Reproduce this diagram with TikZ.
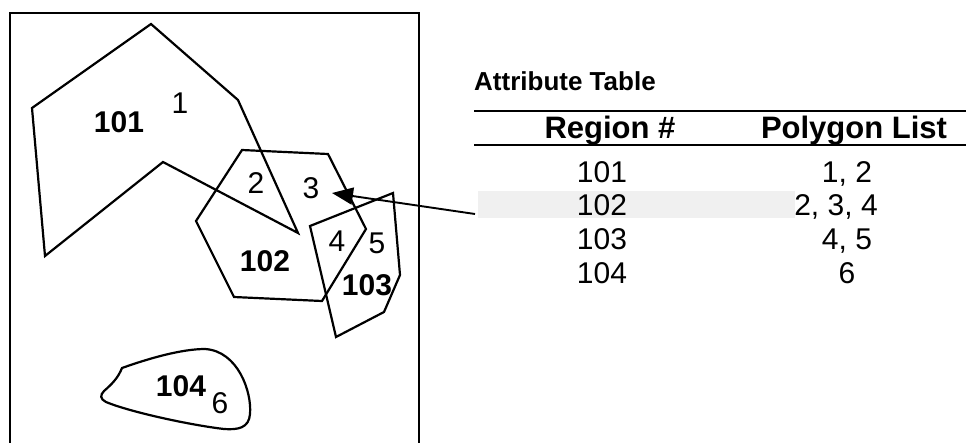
\documentclass[tikz,border=0pt]{standalone}
\usepackage{fontspec}
\setmainfont{Liberation Sans}
\usetikzlibrary{arrows.meta}
\begin{document}
\begin{tikzpicture}[x=1pt,y=-1pt,line join=miter,
  poly/.style={draw=black,line width=2.2pt},
  frame/.style={draw=black,line width=1.9pt},
  rule/.style={draw=black,line width=1.7pt},
  lbl/.style={inner sep=0pt,font=\fontsize{30}{33}\selectfont},
  blbl/.style={inner sep=0pt,font=\fontsize{30}{33}\selectfont\bfseries},
  cell/.style={inner sep=0pt,anchor=base,font=\fontsize{30}{33}\selectfont},
  head/.style={inner sep=0pt,anchor=base,font=\fontsize{31}{34}\selectfont\bfseries},
  title/.style={inner sep=0pt,anchor=base west,font=\fontsize{26}{30}\selectfont\bfseries},
  pointer/.style={draw=black,line width=1.9pt,-{Triangle[length=21pt,width=17pt]}}]
\useasboundingbox (0,0) rectangle (968,442);
% frame
\draw[frame] (10,445) -- (10,13) -- (419,13) -- (419,445);
% highlight of the selected row
\fill[black!6] (478,191) rectangle (795,218);
% polygon 101
\draw[poly] (32,108) -- (151,24) -- (238,100) -- (298,233) -- (163,162) -- (45,256) -- cycle;
% polygon 102
\draw[poly] (242,150) -- (328,154) -- (366,229) -- (322,301) -- (234,297) -- (196,221) -- cycle;
% polygon 103
\draw[poly] (310,226) -- (393,193) -- (400,275) -- (384,312) -- (336,337) -- cycle;
% polygon 104
\draw[poly] (122,368) .. controls (150,358) and (182,349) .. (205,349)
  .. controls (238,351) and (252,392) .. (250,414)
  .. controls (249,428) and (238,430) .. (224,429)
  .. controls (190,425) and (130,412) .. (106,402)
  .. controls (100,399) and (100,395) .. (104,391)
  .. controls (112,384) and (118,378) .. cycle;
% polygon labels
\node[blbl] (r101) at (119,122) {101};
\node[lbl]  (p1)   at (180,103) {1};
\node[lbl]  (p2)   at (256,183) {2};
\node[lbl]  (p3)   at (311,188) {3};
\node[lbl]  (p4)   at (337,241) {4};
\node[lbl]  (p5)   at (377,243) {5};
\node[blbl] (r102) at (265,261) {102};
\node[blbl] (r103) at (367,285) {103};
\node[blbl] (r104) at (181,386) {104};
\node[lbl]  (p6)   at (220,403) {6};
% attribute table
\node[title] (ttl) at (474,90) {Attribute Table};
\draw[rule] (474,111) -- (966,111);
\node[head] (hreg) at (610,138) {Region \#};
\node[head] (hpol) at (854,138) {Polygon List};
\draw[rule] (474,145) -- (966,145);
\node[cell] (c101) at (602,182) {101};
\node[cell] (l101) at (847,182) {1, 2};
\node[cell] (c102) at (602,215) {102};
\node[cell] (l102) at (836,215) {2, 3, 4};
\node[cell] (c103) at (602,249) {103};
\node[cell] (l103) at (847,249) {4, 5};
\node[cell] (c104) at (602,283) {104};
\node[cell] (l104) at (847,283) {6};
% pointer from row 102 to polygon 3
\coordinate (rowend) at (475,214);
\coordinate (tip) at (332,193);
\draw[pointer] (rowend) -- (tip);
\end{tikzpicture}
\end{document}
